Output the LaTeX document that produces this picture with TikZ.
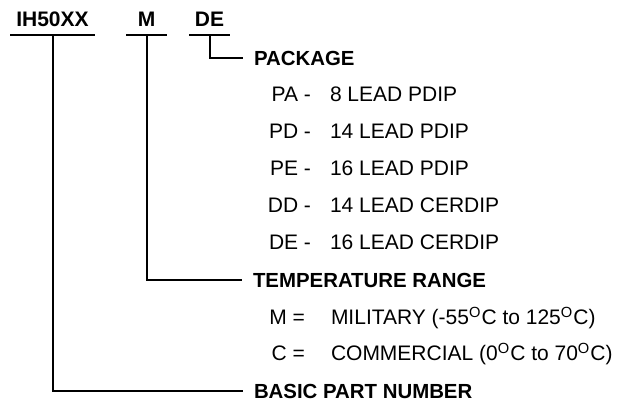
\documentclass[tikz,border=0pt]{standalone}
\usepackage{fontspec}
\setmainfont{Liberation Sans}
\usetikzlibrary{positioning}

\begin{document}
\begin{tikzpicture}[x=0.5pt, y=-0.5pt, line width=1pt,
    partcode/.style={font=\fontsize{10.5}{12}\bfseries, text depth=0pt, inner xsep=0pt, inner ysep=3.5pt, anchor=base},
    field/.style={font=\fontsize{10.2}{12}\bfseries, text depth=0pt, inner xsep=5pt, anchor=west},
    optcode/.style={font=\fontsize{10.5}{12}\selectfont, inner sep=0pt, anchor=base east},
    optdesc/.style={font=\fontsize{10.5}{12}\selectfont, inner sep=0pt, anchor=base west}]
    \useasboundingbox (0,0) rectangle (621,400);
    % part number fields
    \node[partcode, minimum width=41.5pt] (pn) at (52.5,27) {IH50XX};
    \node[partcode, minimum width=19.5pt] (tr) at (146.5,27) {M};
    \node[partcode, minimum width=19.5pt] (pk) at (209.5,27) {DE};
    \foreach \f in {pn, tr, pk}
        \draw (\f.south west) -- (\f.south east);
    % field names
    \node[field] (package) at (243,58) {PACKAGE};
    \node[field] (temp) at (242,280) {TEMPERATURE RANGE};
    \node[field] (basic) at (243,391) {BASIC PART NUMBER};
    \draw (pk.south) |- (package.west);
    \draw (tr.south) |- (temp.west);
    \draw (pn.south) |- (basic.west);
    % package options
    \foreach \code/\desc [count=\i] in {PA/8 LEAD PDIP, PD/14 LEAD PDIP, PE/16 LEAD PDIP,
        DD/14 LEAD CERDIP, DE/16 LEAD CERDIP} {
        \node[optcode] (pcode\i) at (312,65+37*\i) {\code\ -};
        \node[optdesc] (pdesc\i) at (329,65+37*\i) {\desc};
    }
    % temperature options
    \node[optcode] (tcode1) at (306,325) {M =};
    \node[optdesc] (tdesc1) at (330,325) {MILITARY (-55\textsuperscript{O}C to 125\textsuperscript{O}C)};
    \node[optcode] (tcode2) at (306,361) {C =};
    \node[optdesc] (tdesc2) at (330,361) {COMMERCIAL (0\textsuperscript{O}C to 70\textsuperscript{O}C)};
\end{tikzpicture}
\end{document}
